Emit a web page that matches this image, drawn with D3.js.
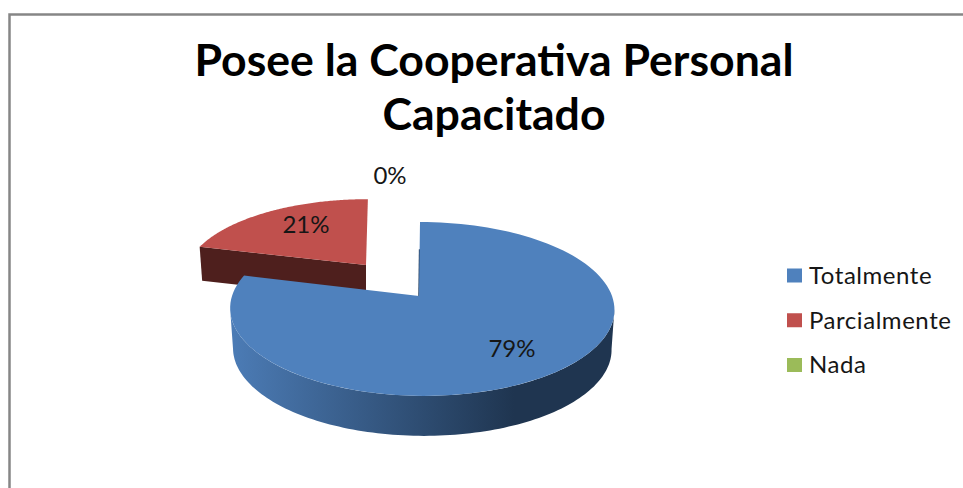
<!DOCTYPE html>
<html>
<head>
<meta charset="utf-8">
<script src="https://cdn.jsdelivr.net/npm/d3@7"></script>
<style>
  html, body { margin: 0; padding: 0; background: #fff; }
  svg { display: block; }
  text { font-family: Lato, "Open Sans", sans-serif; fill: #161616; }
</style>
</head>
<body>
<div id="root"></div>
<script>
const titleLines = ['Posee la Cooperativa Personal', 'Capacitado'];
const categories = ['Totalmente', 'Parcialmente', 'Nada'];
const values = [79, 21, 0];
const colors = ['#4f81bd', '#c0504d', '#9bbb59'];
const labels = ['79%', '21%', '0%'];

const width = 963, height = 488;

const svg = d3.select('#root').append('svg')
              .attr('width', width)
              .attr('height', height);

svg.append('path')
   .attr('d', `M9.5,${height}V14.5H${width}`)
   .attr('fill', 'none')
   .attr('stroke', '#868686')
   .attr('stroke-width', 2.5);

svg.selectAll('.title')
   .data(titleLines).enter()
   .append('text')
   .attr('class', 'title')
   .attr('x', 494)
   .attr('y', (d, i) => 76 + i * 54)
   .attr('text-anchor', 'middle')
   .style('font-size', '44.6px')
   .style('font-weight', 700)
   .style('fill', '#000')
   .text(d => d);

const defs = svg.append('defs');
const grad = defs.append('linearGradient')
                 .attr('id', 'blueWall')
                 .attr('gradientUnits', 'userSpaceOnUse')
                 .attr('x1', 230).attr('x2', 614)
                 .attr('y1', 0).attr('y2', 0);
grad.append('stop').attr('offset', 0).attr('stop-color', '#4c7cb6');
grad.append('stop').attr('offset', 0.74).attr('stop-color', '#1f3550');
grad.append('stop').attr('offset', 1).attr('stop-color', '#1f3550');

const pie = d3.pie().sort(null)(values);

const tilt = 0.149;

// tilted disc: t is clockwise from 12 o'clock, r is 0..1 from the apex
const project = (s, t, r = 1, drop = 0) => {
  const u = r * Math.sin(t), v = -r * Math.cos(t);
  const w = 1 - tilt * v;
  const shrink = drop ? 0.985 : 1;
  return [
    s.x + s.off * r + shrink * s.kx * (190 * u / w + s.lean * v),
    s.y + s.ky * 85 * v / w + drop
  ];
};

// one entry per exploded slice that has some size
const placed = [
  { x: 419, y: 296, kx: 1, ky: 1, lean: 2, off: 3 },
  { x: 366, y: 265, kx: 0.94, ky: 0.89, lean: -2, off: 0 }
];

const rim = (s, a, b, drop = 0) => d3.range(0, 121)
  .map(i => project(s, a + (b - a) * i / 120, 1, drop));
const line = d3.line();

// red goes first, the blue slice sits in front of it
const red = pie[1], blue = pie[0];
const sr = placed[1], sb = placed[0];
const depthRed = 34, depthBlue = 40;

svg.append('path')
   .attr('d', line([
     project(sr, red.startAngle), project(sr, 0, 0),
     project(sr, 0, 0, depthRed), project(sr, red.startAngle, 1, depthRed)
   ]) + 'Z')
   .attr('fill', '#4e1f1d');

svg.append('path')
   .attr('d', line([project(sr, 0, 0), ...rim(sr, red.startAngle, red.endAngle)]) + 'Z')
   .attr('fill', colors[1]);

// blue side wall runs between the widest points of the rim
const wallFrom = Math.PI / 2 + Math.asin(tilt), wallTo = Math.PI * 1.5 - Math.asin(tilt);
svg.append('path')
   .attr('d', line([...rim(sb, wallFrom, wallTo), ...rim(sb, wallTo, wallFrom, depthBlue)]) + 'Z')
   .attr('fill', 'url(#blueWall)');

// thin dark edge showing in the notch
svg.append('path')
   .attr('d', line([project(sb, 0, 0), project(sb, 0, 0.6)]))
   .attr('stroke', '#2a4565')
   .attr('stroke-width', 1.5)
   .attr('fill', 'none');

svg.append('path')
   .attr('d', line([project(sb, 0, 0), ...rim(sb, blue.startAngle, blue.endAngle)]) + 'Z')
   .attr('fill', colors[0]);

const labelPos = [[512, 349], [306, 225], [390, 176]];
svg.selectAll('.lab')
   .data(labels).enter()
   .append('text')
   .attr('class', 'lab')
   .attr('x', (d, i) => labelPos[i][0])
   .attr('y', (d, i) => labelPos[i][1])
   .attr('dy', '0.35em')
   .attr('text-anchor', 'middle')
   .style('font-size', '24px')
   .text(d => d);

const legendY = d3.scalePoint().domain(categories).range([275.5, 365]);
const legend = svg.selectAll('.legend')
   .data(categories).enter()
   .append('g')
   .attr('class', 'legend')
   .attr('transform', d => `translate(787,${legendY(d)})`);
legend.append('rect')
   .attr('y', -7)
   .attr('width', 15)
   .attr('height', 14)
   .attr('fill', (d, i) => colors[i]);
legend.append('text')
   .attr('x', 22)
   .attr('dy', '0.35em')
   .style('font-size', '24px')
   .style('letter-spacing', '0.55px')
   .text(d => d);
</script>
</body>
</html>
